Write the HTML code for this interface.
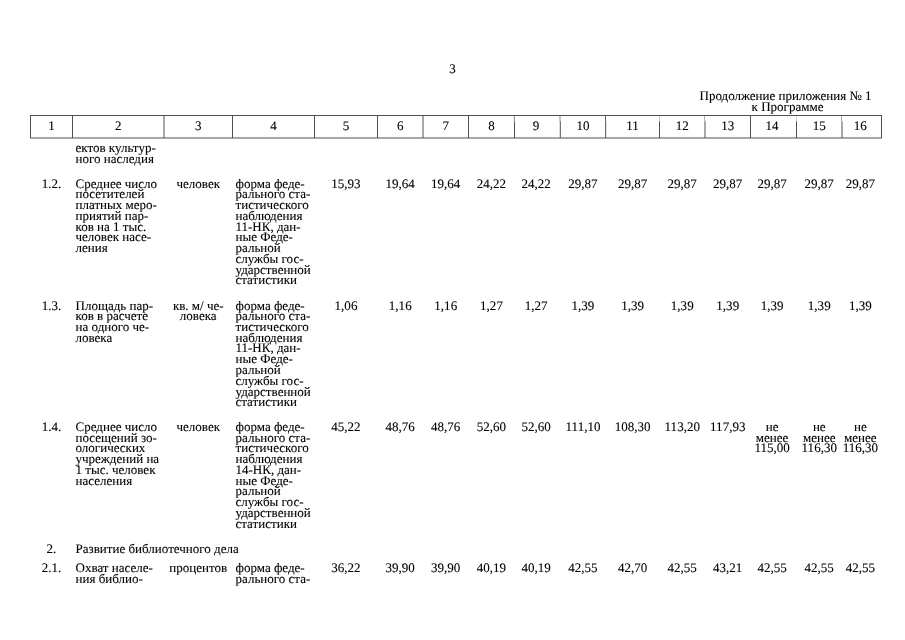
<!DOCTYPE html>
<html lang="ru"><head><meta charset="utf-8"><title>Приложение № 1</title>
<style>
html,body{margin:0;padding:0;background:#fff}
body{width:905px;height:640px;position:relative;overflow:hidden;font-family:"Liberation Serif","DejaVu Serif",serif;font-size:13.02px;line-height:10.75px;color:#000;text-rendering:geometricPrecision}
.c{position:absolute;white-space:nowrap;-webkit-text-stroke:0.1px #000}
.g{position:absolute;left:0;top:0}
</style></head><body>
<svg class="g" width="905" height="160" viewBox="0 0 905 160"><g stroke="#505050" stroke-width="1" fill="none">
<line x1="30.00" y1="115.5" x2="882.00" y2="115.5"/>
<line x1="30.00" y1="138.0" x2="882.00" y2="138.0"/>
<line x1="30.50" y1="115.0" x2="30.50" y2="138.0"/>
<line x1="72.50" y1="115.0" x2="72.50" y2="138.0"/>
<line x1="164.00" y1="115.0" x2="164.00" y2="138.0"/>
<line x1="232.50" y1="115.0" x2="232.50" y2="138.0"/>
<line x1="314.50" y1="115.0" x2="314.50" y2="138.0"/>
<line x1="377.50" y1="115.0" x2="377.50" y2="138.0"/>
<line x1="423.00" y1="115.0" x2="423.00" y2="138.0"/>
<line x1="468.50" y1="115.0" x2="468.50" y2="138.0"/>
<line x1="514.30" y1="115.0" x2="514.30" y2="121.3" stroke-width="0.7"/>
<line x1="514.50" y1="121.3" x2="514.50" y2="138.0"/>
<line x1="560.00" y1="115.0" x2="560.00" y2="121.3" stroke-width="0.7"/>
<line x1="560.30" y1="121.3" x2="560.30" y2="138.0"/>
<line x1="605.50" y1="115.0" x2="605.50" y2="121.3" stroke-width="0.9"/>
<line x1="605.70" y1="121.3" x2="605.70" y2="138.0"/>
<line x1="659.50" y1="115.0" x2="659.50" y2="121.3" stroke-width="0.3"/>
<line x1="659.50" y1="121.3" x2="659.50" y2="138.0"/>
<line x1="704.50" y1="115.0" x2="704.50" y2="121.3" stroke-width="0.45"/>
<line x1="705.00" y1="121.3" x2="705.00" y2="138.0"/>
<line x1="750.50" y1="115.0" x2="750.50" y2="138.0"/>
<line x1="796.50" y1="115.0" x2="796.50" y2="121.3" stroke-width="0.25"/>
<line x1="796.50" y1="121.3" x2="796.50" y2="138.0"/>
<line x1="841.50" y1="115.0" x2="841.50" y2="121.3" stroke-width="0.5"/>
<line x1="842.00" y1="121.3" x2="842.00" y2="138.0"/>
<line x1="881.50" y1="115.0" x2="881.50" y2="138.0"/>
</g></svg>
<div class="c" style="left:30.50px;width:42.00px;text-align:center;top:121px">1</div>
<div class="c" style="left:72.50px;width:91.50px;text-align:center;top:121px">2</div>
<div class="c" style="left:164.00px;width:68.50px;text-align:center;top:121px">3</div>
<div class="c" style="left:232.50px;width:82.00px;text-align:center;top:121px">4</div>
<div class="c" style="left:314.50px;width:63.00px;text-align:center;top:121px">5</div>
<div class="c" style="left:377.50px;width:45.50px;text-align:center;top:121px">6</div>
<div class="c" style="left:423.00px;width:45.50px;text-align:center;top:121px">7</div>
<div class="c" style="left:468.50px;width:46.00px;text-align:center;top:121px">8</div>
<div class="c" style="left:513.20px;width:45.80px;text-align:center;top:121px">9</div>
<div class="c" style="left:560.30px;width:45.40px;text-align:center;top:121px">10</div>
<div class="c" style="left:605.70px;width:53.80px;text-align:center;top:121px">11</div>
<div class="c" style="left:659.50px;width:45.50px;text-align:center;top:121px">12</div>
<div class="c" style="left:705.00px;width:45.50px;text-align:center;top:121px">13</div>
<div class="c" style="left:749.10px;width:46.00px;text-align:center;top:121px">14</div>
<div class="c" style="left:796.50px;width:45.50px;text-align:center;top:121px">15</div>
<div class="c" style="left:840.60px;width:39.50px;text-align:center;top:121px">16</div>
<div class="c" style="left:75.50px;top:143px">ектов культур-</div>
<div class="c" style="left:75.50px;top:154px">ного наследия</div>
<div class="c" style="left:30.50px;width:42.00px;text-align:center;top:179px">1.2.</div>
<div class="c" style="left:75.50px;top:179px">Среднее число</div>
<div class="c" style="left:75.50px;top:189px">посетителей</div>
<div class="c" style="left:75.50px;top:200px">платных меро-</div>
<div class="c" style="left:75.50px;top:211px">приятий пар-</div>
<div class="c" style="left:75.50px;top:222px">ков на 1 тыс.</div>
<div class="c" style="left:75.50px;top:232px">человек насе-</div>
<div class="c" style="left:75.50px;top:243px">ления</div>
<div class="c" style="left:164.00px;width:68.50px;text-align:center;top:179px">человек</div>
<div class="c" style="left:235.50px;top:179px">форма феде-</div>
<div class="c" style="left:235.50px;top:189px">рального ста-</div>
<div class="c" style="left:235.50px;top:200px">тистического</div>
<div class="c" style="left:235.50px;top:211px">наблюдения</div>
<div class="c" style="left:235.50px;top:222px">11-НК, дан-</div>
<div class="c" style="left:235.50px;top:232px">ные Феде-</div>
<div class="c" style="left:235.50px;top:243px">ральной</div>
<div class="c" style="left:235.50px;top:254px">службы гос-</div>
<div class="c" style="left:235.50px;top:265px">ударственной</div>
<div class="c" style="left:235.50px;top:275px">статистики</div>
<div class="c" style="left:314.50px;width:63.00px;text-align:center;top:179px">15,93</div>
<div class="c" style="left:377.50px;width:45.50px;text-align:center;top:179px">19,64</div>
<div class="c" style="left:423.00px;width:45.50px;text-align:center;top:179px">19,64</div>
<div class="c" style="left:468.50px;width:46.00px;text-align:center;top:179px">24,22</div>
<div class="c" style="left:513.20px;width:45.80px;text-align:center;top:179px">24,22</div>
<div class="c" style="left:560.30px;width:45.40px;text-align:center;top:179px">29,87</div>
<div class="c" style="left:605.70px;width:53.80px;text-align:center;top:179px">29,87</div>
<div class="c" style="left:659.50px;width:45.50px;text-align:center;top:179px">29,87</div>
<div class="c" style="left:705.00px;width:45.50px;text-align:center;top:179px">29,87</div>
<div class="c" style="left:749.10px;width:46.00px;text-align:center;top:179px">29,87</div>
<div class="c" style="left:796.50px;width:45.50px;text-align:center;top:179px">29,87</div>
<div class="c" style="left:840.60px;width:39.50px;text-align:center;top:179px">29,87</div>
<div class="c" style="left:30.50px;width:42.00px;text-align:center;top:301px">1.3.</div>
<div class="c" style="left:75.50px;top:301px">Площадь пар-</div>
<div class="c" style="left:75.50px;top:311px">ков в расчете</div>
<div class="c" style="left:75.50px;top:322px">на одного че-</div>
<div class="c" style="left:75.50px;top:333px">ловека</div>
<div class="c" style="left:164.00px;width:68.50px;text-align:center;top:301px">кв. м/ че-</div>
<div class="c" style="left:164.00px;width:68.50px;text-align:center;top:311px">ловека</div>
<div class="c" style="left:235.50px;top:301px">форма феде-</div>
<div class="c" style="left:235.50px;top:311px">рального ста-</div>
<div class="c" style="left:235.50px;top:322px">тистического</div>
<div class="c" style="left:235.50px;top:333px">наблюдения</div>
<div class="c" style="left:235.50px;top:343px">11-НК, дан-</div>
<div class="c" style="left:235.50px;top:354px">ные Феде-</div>
<div class="c" style="left:235.50px;top:365px">ральной</div>
<div class="c" style="left:235.50px;top:376px">службы гос-</div>
<div class="c" style="left:235.50px;top:387px">ударственной</div>
<div class="c" style="left:235.50px;top:397px">статистики</div>
<div class="c" style="left:314.50px;width:63.00px;text-align:center;top:301px">1,06</div>
<div class="c" style="left:377.50px;width:45.50px;text-align:center;top:301px">1,16</div>
<div class="c" style="left:423.00px;width:45.50px;text-align:center;top:301px">1,16</div>
<div class="c" style="left:468.50px;width:46.00px;text-align:center;top:301px">1,27</div>
<div class="c" style="left:513.20px;width:45.80px;text-align:center;top:301px">1,27</div>
<div class="c" style="left:560.30px;width:45.40px;text-align:center;top:301px">1,39</div>
<div class="c" style="left:605.70px;width:53.80px;text-align:center;top:301px">1,39</div>
<div class="c" style="left:659.50px;width:45.50px;text-align:center;top:301px">1,39</div>
<div class="c" style="left:705.00px;width:45.50px;text-align:center;top:301px">1,39</div>
<div class="c" style="left:749.10px;width:46.00px;text-align:center;top:301px">1,39</div>
<div class="c" style="left:796.50px;width:45.50px;text-align:center;top:301px">1,39</div>
<div class="c" style="left:840.60px;width:39.50px;text-align:center;top:301px">1,39</div>
<div class="c" style="left:30.50px;width:42.00px;text-align:center;top:422px">1.4.</div>
<div class="c" style="left:75.50px;top:422px">Среднее число</div>
<div class="c" style="left:75.50px;top:433px">посещений зо-</div>
<div class="c" style="left:75.50px;top:443px">ологических</div>
<div class="c" style="left:75.50px;top:454px">учреждений на</div>
<div class="c" style="left:75.50px;top:465px">1 тыс. человек</div>
<div class="c" style="left:75.50px;top:476px">населения</div>
<div class="c" style="left:164.00px;width:68.50px;text-align:center;top:422px">человек</div>
<div class="c" style="left:235.50px;top:422px">форма феде-</div>
<div class="c" style="left:235.50px;top:433px">рального ста-</div>
<div class="c" style="left:235.50px;top:443px">тистического</div>
<div class="c" style="left:235.50px;top:454px">наблюдения</div>
<div class="c" style="left:235.50px;top:465px">14-НК, дан-</div>
<div class="c" style="left:235.50px;top:476px">ные Феде-</div>
<div class="c" style="left:235.50px;top:486px">ральной</div>
<div class="c" style="left:235.50px;top:497px">службы гос-</div>
<div class="c" style="left:235.50px;top:508px">ударственной</div>
<div class="c" style="left:235.50px;top:519px">статистики</div>
<div class="c" style="left:314.50px;width:63.00px;text-align:center;top:422px">45,22</div>
<div class="c" style="left:377.50px;width:45.50px;text-align:center;top:422px">48,76</div>
<div class="c" style="left:423.00px;width:45.50px;text-align:center;top:422px">48,76</div>
<div class="c" style="left:468.50px;width:46.00px;text-align:center;top:422px">52,60</div>
<div class="c" style="left:513.20px;width:45.80px;text-align:center;top:422px">52,60</div>
<div class="c" style="left:560.30px;width:45.40px;text-align:center;top:422px">111,10</div>
<div class="c" style="left:605.70px;width:53.80px;text-align:center;top:422px">108,30</div>
<div class="c" style="left:659.50px;width:45.50px;text-align:center;top:422px">113,20</div>
<div class="c" style="left:705.00px;width:45.50px;text-align:center;top:422px">117,93</div>
<div class="c" style="left:749.10px;width:46.00px;text-align:center;top:422px">не</div>
<div class="c" style="left:749.10px;width:46.00px;text-align:center;top:433px">менее</div>
<div class="c" style="left:749.10px;width:46.00px;text-align:center;top:443px">115,00</div>
<div class="c" style="left:796.50px;width:45.50px;text-align:center;top:422px">не</div>
<div class="c" style="left:796.50px;width:45.50px;text-align:center;top:433px">менее</div>
<div class="c" style="left:796.50px;width:45.50px;text-align:center;top:443px">116,30</div>
<div class="c" style="left:840.60px;width:39.50px;text-align:center;top:422px">не</div>
<div class="c" style="left:840.60px;width:39.50px;text-align:center;top:433px">менее</div>
<div class="c" style="left:840.60px;width:39.50px;text-align:center;top:443px">116,30</div>
<div class="c" style="left:30.50px;width:42.00px;text-align:center;top:544px">2.</div>
<div class="c" style="left:75.50px;top:544px">Развитие библиотечного дела</div>
<div class="c" style="left:30.50px;width:42.00px;text-align:center;top:563px">2.1.</div>
<div class="c" style="left:75.50px;top:563px">Охват населе-</div>
<div class="c" style="left:75.50px;top:574px">ния библио-</div>
<div class="c" style="left:164.00px;width:68.50px;text-align:center;top:563px">процентов</div>
<div class="c" style="left:235.50px;top:563px">форма феде-</div>
<div class="c" style="left:235.50px;top:574px">рального ста-</div>
<div class="c" style="left:314.50px;width:63.00px;text-align:center;top:563px">36,22</div>
<div class="c" style="left:377.50px;width:45.50px;text-align:center;top:563px">39,90</div>
<div class="c" style="left:423.00px;width:45.50px;text-align:center;top:563px">39,90</div>
<div class="c" style="left:468.50px;width:46.00px;text-align:center;top:563px">40,19</div>
<div class="c" style="left:513.20px;width:45.80px;text-align:center;top:563px">40,19</div>
<div class="c" style="left:560.30px;width:45.40px;text-align:center;top:563px">42,55</div>
<div class="c" style="left:605.70px;width:53.80px;text-align:center;top:563px">42,70</div>
<div class="c" style="left:659.50px;width:45.50px;text-align:center;top:563px">42,55</div>
<div class="c" style="left:705.00px;width:45.50px;text-align:center;top:563px">43,21</div>
<div class="c" style="left:749.10px;width:46.00px;text-align:center;top:563px">42,55</div>
<div class="c" style="left:796.50px;width:45.50px;text-align:center;top:563px">42,55</div>
<div class="c" style="left:840.60px;width:39.50px;text-align:center;top:563px">42,55</div>
<div class="c" style="left:402.5px;width:100px;text-align:center;top:64px">3</div>
<div class="c" style="left:699.5px;top:91px">Продолжение приложения № 1</div>
<div class="c" style="left:751.6px;top:102px">к Программе</div>
</body></html>
